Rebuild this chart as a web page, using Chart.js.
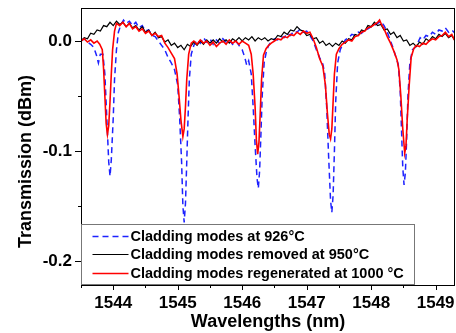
<!DOCTYPE html>
<html>
<head>
<meta charset="utf-8">
<script src="https://cdn.jsdelivr.net/npm/chart.js@4"></script>
<style>
  body { margin: 0; background: #fff; }
</style>
</head>
<body>
<canvas id="chart" width="456" height="333"></canvas>
<script>
// cladding modes at 926 C (blue dashed)
const wlBlue = [1543.50,1543.55,1543.60,1543.65,1543.70,1543.74,1543.77,1543.80,1543.84,1543.87,1543.90,1543.93,1543.95,1543.97,1544.00,1544.02,1544.05,1544.08,1544.12,1544.16,1544.20,1544.25,1544.30,1544.35,1544.40,1544.45,1544.50,1544.55,1544.60,1544.65,1544.70,1544.75,1544.80,1544.85,1544.90,1544.95,1545.00,1545.03,1545.06,1545.08,1545.10,1545.12,1545.14,1545.16,1545.18,1545.21,1545.25,1545.30,1545.35,1545.40,1545.45,1545.50,1545.55,1545.60,1545.65,1545.70,1545.75,1545.80,1545.85,1545.90,1545.95,1546.00,1546.04,1546.07,1546.10,1546.14,1546.17,1546.20,1546.23,1546.25,1546.27,1546.29,1546.31,1546.34,1546.38,1546.42,1546.46,1546.50,1546.55,1546.60,1546.65,1546.70,1546.75,1546.80,1546.85,1546.90,1546.95,1547.00,1547.05,1547.10,1547.15,1547.20,1547.25,1547.28,1547.31,1547.34,1547.37,1547.39,1547.41,1547.43,1547.45,1547.48,1547.52,1547.56,1547.60,1547.65,1547.70,1547.75,1547.80,1547.85,1547.90,1547.95,1548.00,1548.05,1548.10,1548.15,1548.20,1548.25,1548.30,1548.35,1548.39,1548.42,1548.45,1548.47,1548.49,1548.51,1548.53,1548.55,1548.57,1548.60,1548.64,1548.68,1548.72,1548.76,1548.80,1548.85,1548.90,1548.95,1549.00,1549.05,1549.10,1549.15,1549.20,1549.25,1549.30];
const tBlue = [0.000,0.002,-0.001,-0.003,-0.006,-0.013,-0.020,-0.012,-0.012,-0.030,-0.070,-0.110,-0.123,-0.108,-0.070,-0.035,-0.008,0.008,0.015,0.019,0.016,0.018,0.014,0.017,0.012,0.014,0.009,0.010,0.005,0.004,0.000,-0.004,-0.008,-0.015,-0.020,-0.026,-0.040,-0.070,-0.110,-0.150,-0.165,-0.148,-0.110,-0.070,-0.035,-0.012,-0.004,0.001,-0.002,0.003,-0.001,0.002,-0.003,0.001,-0.002,0.002,-0.001,0.001,-0.003,0.000,-0.004,-0.008,-0.015,-0.022,-0.018,-0.030,-0.060,-0.095,-0.125,-0.134,-0.118,-0.085,-0.050,-0.020,-0.008,-0.003,0.000,0.002,0.001,0.004,0.003,0.007,0.005,0.009,0.008,0.011,0.008,0.009,0.005,0.000,-0.008,-0.015,-0.021,-0.030,-0.060,-0.105,-0.145,-0.156,-0.140,-0.100,-0.055,-0.020,-0.008,-0.003,0.001,0.003,0.006,0.005,0.008,0.007,0.010,0.011,0.013,0.014,0.016,0.018,0.014,0.008,0.000,-0.008,-0.016,-0.021,-0.045,-0.080,-0.115,-0.131,-0.120,-0.090,-0.050,-0.020,-0.008,-0.006,-0.002,0.003,0.001,0.005,0.004,0.008,0.006,0.010,0.009,0.012,0.008,0.010,0.007];

// cladding modes removed at 950 C (black)
const wlBlack = [1543.50,1543.55,1543.60,1543.65,1543.70,1543.75,1543.80,1543.85,1543.90,1543.95,1544.00,1544.05,1544.10,1544.15,1544.20,1544.25,1544.30,1544.35,1544.40,1544.45,1544.50,1544.55,1544.60,1544.65,1544.70,1544.75,1544.80,1544.85,1544.90,1544.95,1545.00,1545.05,1545.10,1545.15,1545.20,1545.25,1545.30,1545.35,1545.40,1545.45,1545.50,1545.55,1545.60,1545.65,1545.70,1545.75,1545.80,1545.85,1545.90,1545.95,1546.00,1546.05,1546.10,1546.15,1546.20,1546.25,1546.30,1546.35,1546.40,1546.45,1546.50,1546.55,1546.60,1546.65,1546.70,1546.75,1546.80,1546.85,1546.90,1546.95,1547.00,1547.05,1547.10,1547.15,1547.20,1547.25,1547.30,1547.35,1547.40,1547.45,1547.50,1547.55,1547.60,1547.65,1547.70,1547.75,1547.80,1547.85,1547.90,1547.95,1548.00,1548.05,1548.10,1548.15,1548.20,1548.25,1548.30,1548.35,1548.40,1548.45,1548.50,1548.55,1548.60,1548.65,1548.70,1548.75,1548.80,1548.85,1548.90,1548.95,1549.00,1549.05,1549.10,1549.15,1549.20,1549.25,1549.30];
const tBlack = [0.000,0.003,0.002,0.007,0.006,0.010,0.009,0.014,0.013,0.017,0.014,0.018,0.015,0.017,0.013,0.016,0.012,0.014,0.010,0.013,0.008,0.010,0.005,0.008,0.003,0.004,-0.001,0.001,-0.004,-0.002,-0.006,-0.004,-0.008,-0.003,-0.005,-0.001,-0.004,0.000,-0.003,0.001,-0.002,0.001,-0.002,0.002,-0.001,0.001,-0.002,0.002,0.000,0.003,0.000,0.003,0.001,0.004,0.000,0.003,0.001,0.003,0.000,0.002,0.001,0.005,0.004,0.008,0.006,0.010,0.009,0.013,0.010,0.009,0.005,0.006,0.002,0.003,-0.002,0.000,-0.004,-0.002,-0.005,-0.002,-0.004,0.000,-0.002,0.002,0.001,0.006,0.005,0.010,0.009,0.014,0.013,0.017,0.014,0.015,0.010,0.011,0.006,0.008,0.003,0.005,0.000,0.001,-0.004,-0.002,-0.005,-0.001,-0.003,0.002,0.000,0.004,0.002,0.006,0.004,0.007,0.003,0.005,0.000];

// cladding modes regenerated at 1000 C (red)
const wlRed = [1543.50,1543.55,1543.60,1543.65,1543.70,1543.75,1543.79,1543.83,1543.85,1543.87,1543.89,1543.91,1543.93,1543.95,1543.97,1543.99,1544.02,1544.05,1544.10,1544.15,1544.20,1544.25,1544.30,1544.35,1544.40,1544.45,1544.50,1544.55,1544.60,1544.65,1544.70,1544.75,1544.80,1544.85,1544.90,1544.95,1544.99,1545.02,1545.05,1545.08,1545.10,1545.12,1545.14,1545.17,1545.21,1545.25,1545.30,1545.35,1545.40,1545.45,1545.50,1545.55,1545.60,1545.65,1545.70,1545.75,1545.80,1545.85,1545.90,1545.95,1546.00,1546.05,1546.10,1546.14,1546.17,1546.20,1546.22,1546.24,1546.26,1546.28,1546.30,1546.33,1546.37,1546.41,1546.45,1546.50,1546.55,1546.60,1546.65,1546.70,1546.75,1546.80,1546.85,1546.90,1546.95,1547.00,1547.05,1547.10,1547.15,1547.20,1547.25,1547.29,1547.32,1547.35,1547.37,1547.39,1547.41,1547.43,1547.46,1547.50,1547.55,1547.60,1547.65,1547.70,1547.75,1547.80,1547.85,1547.90,1547.95,1548.00,1548.05,1548.10,1548.13,1548.16,1548.20,1548.25,1548.30,1548.35,1548.40,1548.43,1548.46,1548.49,1548.52,1548.54,1548.56,1548.59,1548.62,1548.66,1548.70,1548.75,1548.80,1548.85,1548.90,1548.95,1549.00,1549.05,1549.10,1549.15,1549.20,1549.25,1549.30];
const tRed = [0.000,0.002,-0.001,0.001,-0.002,0.000,-0.003,-0.008,-0.025,-0.050,-0.075,-0.085,-0.077,-0.055,-0.030,-0.008,0.009,0.016,0.014,0.017,0.013,0.016,0.011,0.013,0.009,0.011,0.007,0.009,0.005,0.007,0.004,0.005,-0.002,-0.006,-0.011,-0.016,-0.030,-0.050,-0.072,-0.087,-0.080,-0.060,-0.035,-0.012,-0.002,0.000,-0.003,0.001,-0.002,0.000,-0.004,-0.001,-0.005,-0.002,0.000,-0.003,0.001,-0.002,0.000,-0.003,0.000,-0.002,-0.004,-0.012,-0.030,-0.060,-0.090,-0.103,-0.092,-0.065,-0.035,-0.013,-0.007,-0.004,-0.002,0.000,0.002,0.001,0.004,0.003,0.006,0.005,0.008,0.006,0.009,0.007,0.008,0.002,-0.006,-0.016,-0.023,-0.040,-0.065,-0.085,-0.089,-0.080,-0.055,-0.030,-0.012,-0.007,-0.003,-0.001,0.001,0.000,0.004,0.005,0.008,0.009,0.012,0.013,0.015,0.017,0.019,0.015,0.011,0.004,-0.002,-0.009,-0.017,-0.026,-0.050,-0.080,-0.102,-0.095,-0.070,-0.040,-0.015,-0.007,-0.004,-0.005,-0.002,-0.003,0.000,0.002,0.001,0.004,0.005,0.008,0.004,0.006,0.000];

const seriesLabels = ['Cladding modes at 926°C', 'Cladding modes removed at 950°C', 'Cladding modes regenerated at 1000 °C'];
const xTickLabels = ['1544', '1545', '1546', '1547', '1548', '1549'];
const yTickLabels = ['0.0', '-0.1', '-0.2'];

const FONT = "'Liberation Sans', Arial, sans-serif";

function pts(xs, ys) {
  return xs.map((x, i) => ({ x: x, y: ys[i] }));
}

function isMajorX(v) { return Math.abs(v - Math.round(v)) < 1e-6; }
function isMajorY(v) { return Math.abs(v * 10 - Math.round(v * 10)) < 1e-6; }

// frame, tick marks and the legend box inside the plot
const decorations = {
  id: 'decorations',
  afterDraw(chart) {
    const ctx = chart.ctx;
    const a = chart.chartArea;
    ctx.save();
    ctx.strokeStyle = '#000';
    ctx.lineWidth = 1;
    ctx.strokeRect(a.left + 0.5, a.top + 0.5, a.right - a.left - 1, a.bottom - a.top);

    ctx.beginPath();
    chart.scales.x.ticks.forEach(t => {
      const px = Math.round(chart.scales.x.getPixelForValue(t.value)) + 0.5;
      const len = isMajorX(t.value) ? 5 : 3;
      ctx.moveTo(px, a.bottom);
      ctx.lineTo(px, a.bottom + len);
    });
    chart.scales.y.ticks.forEach(t => {
      const py = Math.round(chart.scales.y.getPixelForValue(t.value)) + 0.5;
      const len = isMajorY(t.value) ? 6 : 3;
      ctx.moveTo(a.left, py);
      ctx.lineTo(a.left - len, py);
    });
    ctx.stroke();

    // legend
    const bx = a.left + 0.5, by = a.bottom - 60.5, bw = 333, bh = 60;
    ctx.fillStyle = '#fff';
    ctx.fillRect(bx, by, bw, bh);
    ctx.strokeStyle = '#777';
    ctx.strokeRect(bx, by, bw, bh);
    ctx.font = 'bold 14.5px ' + FONT;
    ctx.textBaseline = 'middle';
    ctx.textAlign = 'left';
    [0, 1, 2].forEach((di, i) => {
      const ds = chart.data.datasets[di];
      const y = Math.round(by + 11 + i * 18.5) + 0.5;
      ctx.beginPath();
      ctx.strokeStyle = ds.borderColor;
      ctx.lineWidth = ds.borderWidth;
      ctx.setLineDash(ds.borderDash || []);
      ctx.moveTo(bx + 11, y);
      ctx.lineTo(bx + 47, y);
      ctx.stroke();
      ctx.setLineDash([]);
      ctx.fillStyle = '#000';
      ctx.fillText(ds.label, bx + 49, y + 0.5);
    });
    ctx.restore();
  }
};

new Chart(document.getElementById('chart'), {
  type: 'line',
  data: {
    datasets: [
      {
        label: seriesLabels[0],
        data: pts(wlBlue, tBlue),
        borderColor: '#1e22ff',
        borderWidth: 1.5,
        borderDash: [6, 4],
        pointRadius: 0,
        order: 3
      },
      {
        label: seriesLabels[1],
        data: pts(wlBlack, tBlack),
        borderColor: '#000000',
        borderWidth: 1.2,
        pointRadius: 0,
        order: 2
      },
      {
        label: seriesLabels[2],
        data: pts(wlRed, tRed),
        borderColor: '#ff0000',
        borderWidth: 1.6,
        pointRadius: 0,
        order: 1
      }
    ]
  },
  options: {
    responsive: false,
    devicePixelRatio: 1,
    animation: false,
    layout: { padding: { top: 8, right: 1, left: 0, bottom: 0 } },
    plugins: {
      legend: { display: false },
      tooltip: { enabled: false }
    },
    scales: {
      x: {
        type: 'linear',
        min: 1543.5,
        max: 1549.3,
        afterFit: s => { s.height = 48; s.paddingLeft = 0; s.paddingRight = 0; },
        grid: { display: true, drawOnChartArea: false, drawTicks: true, tickLength: 5, tickColor: 'rgba(0,0,0,0)' },
        border: { display: false },
        ticks: {
          stepSize: 0.5,
          autoSkip: false,
          includeBounds: false,
          maxRotation: 0,
          padding: 3,
          color: '#000',
          font: { family: FONT, size: 17, weight: 'bold' },
          callback: v => {
            const idx = Math.round(v) - 1544;
            return isMajorX(v) && xTickLabels[idx] !== undefined ? xTickLabels[idx] : '';
          }
        },
        title: {
          display: true,
          text: 'Wavelengths (nm)',
          color: '#000',
          font: { family: FONT, size: 18, weight: 'bold' },
          padding: { top: 0, bottom: 0 }
        }
      },
      y: {
        min: -0.222,
        max: 0.03,
        afterFit: s => { s.width = 81; s.paddingTop = 0; s.paddingBottom = 0; },
        grid: { display: true, drawOnChartArea: false, drawTicks: true, tickLength: 6, tickColor: 'rgba(0,0,0,0)' },
        border: { display: false },
        ticks: {
          stepSize: 0.05,
          autoSkip: false,
          includeBounds: false,
          padding: 3,
          color: '#000',
          font: { family: FONT, size: 17, weight: 'bold' },
          callback: v => {
            if (!isMajorY(v)) return '';
            const idx = Math.round(-v * 10);
            return yTickLabels[idx] !== undefined ? yTickLabels[idx] : '';
          }
        },
        title: {
          display: true,
          // trailing spaces push the visible text a little below the axis middle, as in the original
          text: 'Transmission (dBm)      ',
          color: '#000',
          font: { family: FONT, size: 18, weight: 'bold' },
          padding: { top: 15, bottom: 0 }
        }
      }
    }
  },
  plugins: [decorations]
});
</script>
</body>
</html>
